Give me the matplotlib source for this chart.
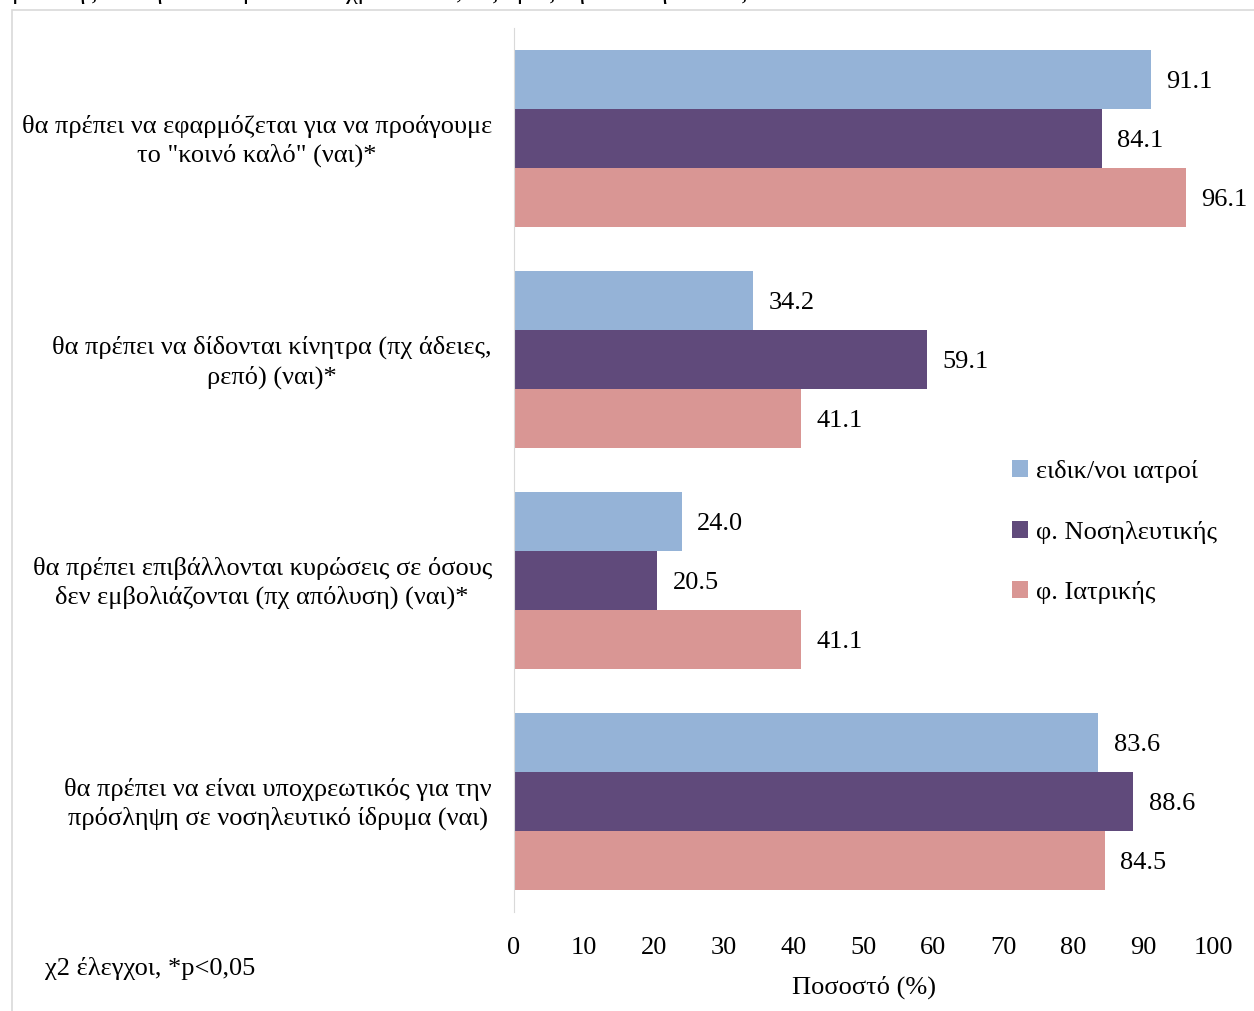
import matplotlib
matplotlib.use('Agg')
from matplotlib import pyplot as plt
from matplotlib.patches import Rectangle
import numpy as np

plt.rcParams['font.family'] = ['Liberation Serif', 'DejaVu Serif']

categories = [
    'θα πρέπει να εφαρμόζεται για να προάγουμε\nτο "κοινό καλό" (ναι)*',
    'θα πρέπει να δίδονται κίνητρα (πχ άδειες,\nρεπό) (ναι)*',
    'θα πρέπει επιβάλλονται κυρώσεις σε όσους\nδεν εμβολιάζονται (πχ απόλυση) (ναι)*',
    'θα πρέπει να είναι υποχρεωτικός για την\nπρόσληψη σε νοσηλευτικό ίδρυμα (ναι)',
]
series_names = ['ειδικ/νοι ιατροί', 'φ. Νοσηλευτικής', 'φ. Ιατρικής']
doctors = [91.1, 34.2, 24.0, 83.6]
nursing = [84.1, 59.1, 20.5, 88.6]
medical = [96.1, 41.1, 41.1, 84.5]
colors = ['#95B3D7', '#604A7B', '#D99694']
xticks = list(range(0, 101, 10))

fig = plt.figure(figsize=(12.54, 10.11), dpi=100)
ax = fig.add_axes([0.4099, 0.0979, 0.5574, 0.8744])

# chart frame
fig.patches.append(Rectangle((12 / 1254, -0.01), 1.0, 1 - 10 / 1011 + 0.01,
                             transform=fig.transFigure, fill=False,
                             edgecolor='#D9D9D9', linewidth=1.2))
# clipped caption at the top
fig.text(12 / 1254, 1.0 + 8 / 1011, 'μελέτης που ήταν υπέρ του υποχρεωτικού, ως προς την ιδιότητα τους.',
         fontsize=19, va='center', ha='left')

y = np.arange(len(categories))
h = 0.8 / 3
for i, (vals, name, c) in enumerate(zip([doctors, nursing, medical], series_names, colors)):
    pos = y - h + i * h
    bars = ax.barh(pos, vals, height=h, color=c, label=name)
    for b, v in zip(bars, vals):
        ax.text(v + 2.2, b.get_y() + b.get_height() / 2 + 0.01, f'{v:.1f}',
                va='center', ha='left', fontsize=19)

ax.set_ylim(3.5, -0.5)
ax.set_xlim(0, 100)
ax.set_xticks(xticks)
ax.set_xticklabels([str(t) for t in xticks], fontsize=19)
ax.set_yticks(y - 0.015)
ax.set_yticklabels(categories, fontsize=19, linespacing=1.35)
for lab in ax.get_yticklabels():
    lab.set_multialignment('center')
ax.tick_params(axis='both', length=0)
ax.tick_params(axis='x', pad=18)
ax.tick_params(axis='y', pad=16)
for s in ['top', 'right', 'bottom']:
    ax.spines[s].set_visible(False)
ax.spines['left'].set_color('#D9D9D9')
ax.set_xlabel('Ποσοστό (%)', fontsize=19, labelpad=12)

ax.legend(loc='center left', bbox_to_anchor=(1012 / 1254, 1 - 532 / 1011),
          bbox_transform=fig.transFigure, frameon=False,
          fontsize=19, handlelength=0.6, handleheight=0.6, handletextpad=0.3,
          labelspacing=1.42, borderaxespad=0, borderpad=0)

fig.text(45 / 1254, 1 - 968 / 1011, 'χ2 έλεγχοι, *p<0,05', fontsize=19,
         va='center', ha='left')

fig.savefig('out.png', dpi=100)
